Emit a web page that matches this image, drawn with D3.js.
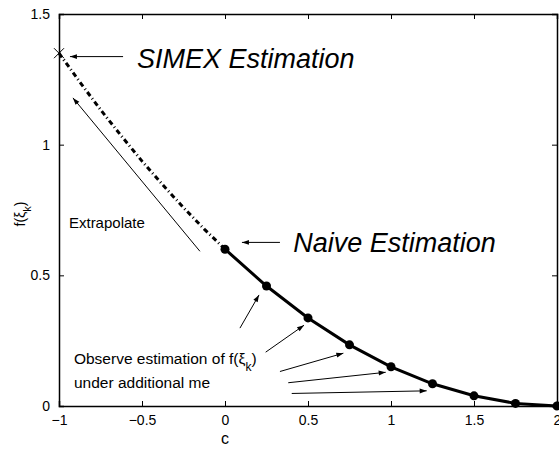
<!DOCTYPE html>
<html lang="en">
<head>
<meta charset="UTF-8">
<title>SIMEX extrapolation</title>
<script src="https://cdn.jsdelivr.net/npm/d3@7"></script>
<style>
  body { margin: 0; background: #fff; }
  svg { font-family: "Liberation Sans", Arial, Helvetica, sans-serif; }
  .tick text { font-size: 14px; fill: #000; }
  .tick line, .domain { stroke: #000; }
</style>
</head>
<body>
<svg id="chart" width="559" height="451"></svg>
<script>
// observed (naive + added error) estimates
const cObs = [0, 0.25, 0.5, 0.75, 1, 1.25, 1.5, 1.75, 2];
const fObs = [0.6, 0.459, 0.337, 0.234, 0.15, 0.085, 0.039, 0.01, 0];
// extrapolated curve back to c = -1
const cExt = [-1, -0.875, -0.75, -0.625, -0.5, -0.375, -0.25, -0.125, 0];
const fExt = [1.35, 1.24, 1.134, 1.034, 0.937, 0.846, 0.759, 0.677, 0.6];
const xTicks = [-1, -0.5, 0, 0.5, 1, 1.5, 2];
const yTicks = [0, 0.5, 1, 1.5];
const simex = { c: -1, f: 1.35 };
// annotation arrows [x1, y1, x2, y2] in data units
const obsArrows = [
  [0.090, 0.298, 0.205, 0.425],
  [0.245, 0.206, 0.476, 0.309],
  [0.331, 0.132, 0.713, 0.202],
  [0.381, 0.089, 0.968, 0.129],
  [0.402, 0.048, 1.215, 0.058]
];
const bigArrows = [
  [-0.614, 1.337, -0.934, 1.337],
  [0.331, 0.626, 0.102, 0.626],
  [-0.151, 0.592, -0.916, 1.179]
];

const margin = { top: 14, right: 2, bottom: 45, left: 59 };
const width = 559 - margin.left - margin.right;
const height = 451 - margin.top - margin.bottom;

const svg = d3.select("#chart")
  .append("g")
  .attr("transform", `translate(${margin.left},${margin.top})`);

const x = d3.scaleLinear().domain([-1, 2]).range([0, width]);
const y = d3.scaleLinear().domain([0, 1.5]).range([height, 0]);

const fmt = d => (d < 0 ? "\u2212" + Math.abs(d) : String(d));

// axes with inward ticks, box on all four sides
svg.append("g")
  .attr("transform", `translate(0,${height})`)
  .call(d3.axisBottom(x).tickValues(xTicks).tickSize(-5).tickPadding(9).tickFormat(fmt))
  .call(g => g.select(".domain").attr("stroke-width", 1.5));
svg.append("g")
  .call(d3.axisLeft(y).tickValues(yTicks).tickSize(-5).tickPadding(9).tickFormat(fmt))
  .call(g => g.select(".domain").attr("stroke-width", 1.5));
svg.append("g")
  .call(d3.axisTop(x).tickValues(xTicks).tickSize(-5).tickFormat(""))
  .call(g => g.select(".domain").attr("stroke-width", 1.5));
svg.append("g")
  .attr("transform", `translate(${width},0)`)
  .call(d3.axisRight(y).tickValues(yTicks).tickSize(-5).tickFormat(""))
  .call(g => g.select(".domain").attr("stroke-width", 1.5));

svg.selectAll(".tick text").attr("font-size", 14);

// axis labels
svg.append("text")
  .attr("x", x(0))
  .attr("y", height + 38)
  .attr("text-anchor", "middle")
  .attr("font-size", 16)
  .text("c");
svg.append("text")
  .attr("transform", `translate(-34,${y(0.75) + 4}) rotate(-90)`)
  .attr("text-anchor", "middle")
  .attr("font-size", 14)
  .html('f(&#958;<tspan baseline-shift="sub" font-size="11">k</tspan>)');

// arrowhead marker
svg.append("defs").append("marker")
  .attr("id", "arrow")
  .attr("viewBox", "0 0 10 10")
  .attr("refX", 10).attr("refY", 5)
  .attr("markerWidth", 10).attr("markerHeight", 7)
  .attr("markerUnits", "userSpaceOnUse")
  .attr("orient", "auto")
  .append("path")
  .attr("d", "M0,1.5 L10,5 L0,8.5 Z")
  .attr("fill", "#000");

const line = d3.line().x(d => x(d[0])).y(d => y(d[1]));

// extrapolated dash-dot curve
svg.append("path")
  .datum(cExt.map((c, i) => [c, fExt[i]]))
  .attr("d", line)
  .attr("fill", "none")
  .attr("stroke", "#000")
  .attr("stroke-width", 3)
  .attr("stroke-dasharray", "5,3,1,3");

// observed solid curve with dots
const obs = cObs.map((c, i) => [c, fObs[i]]);
svg.append("path")
  .datum(obs)
  .attr("d", line)
  .attr("fill", "none")
  .attr("stroke", "#000")
  .attr("stroke-width", 3);
svg.selectAll(".dot")
  .data(obs)
  .enter().append("circle")
  .attr("class", "dot")
  .attr("cx", d => x(d[0]))
  .attr("cy", d => y(d[1]))
  .attr("r", 4.5)
  .attr("fill", "#000");

// SIMEX cross
const sx = x(simex.c), sy = y(simex.f);
svg.append("path")
  .attr("d", `M${sx - 5},${sy - 5}L${sx + 5},${sy + 5}M${sx - 5},${sy + 5}L${sx + 5},${sy - 5}`)
  .attr("stroke", "#000")
  .attr("stroke-width", 1);

// arrows
svg.selectAll(".arr")
  .data(bigArrows.concat(obsArrows))
  .enter().append("line")
  .attr("class", "arr")
  .attr("x1", d => x(d[0])).attr("y1", d => y(d[1]))
  .attr("x2", d => x(d[2])).attr("y2", d => y(d[3]))
  .attr("stroke", "#000")
  .attr("stroke-width", 1)
  .attr("marker-end", "url(#arrow)");

// text annotations
svg.append("text")
  .attr("x", x(-0.53)).attr("y", y(1.294))
  .attr("font-size", 27).attr("font-style", "italic")
  .text("SIMEX Estimation");
svg.append("text")
  .attr("x", x(0.411)).attr("y", y(0.588))
  .attr("font-size", 27).attr("font-style", "italic")
  .text("Naive Estimation");
svg.append("text")
  .attr("x", x(-0.94)).attr("y", y(0.683))
  .attr("font-size", 15)
  .text("Extrapolate");
svg.append("text")
  .attr("x", x(-0.91)).attr("y", y(0.16))
  .attr("font-size", 15.5)
  .html('Observe estimation of f(&#958;<tspan baseline-shift="sub" font-size="12">k</tspan>)');
svg.append("text")
  .attr("x", x(-0.91)).attr("y", y(0.069))
  .attr("font-size", 15.5)
  .text("under additional me");
</script>
</body>
</html>
